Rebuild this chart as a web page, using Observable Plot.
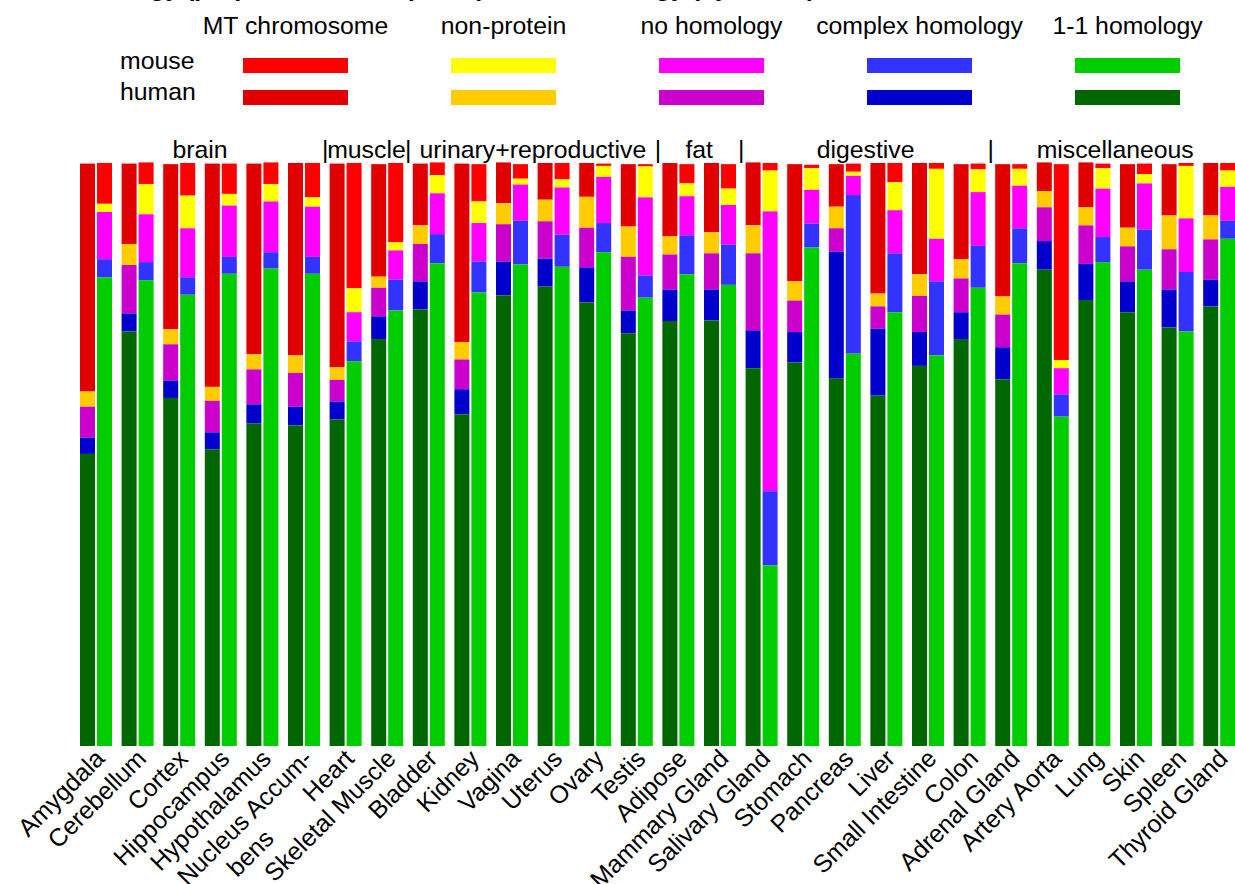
<!DOCTYPE html>
<html>
<head>
<meta charset="utf-8">
<script src="https://cdn.jsdelivr.net/npm/d3@7"></script>
<script src="https://cdn.jsdelivr.net/npm/@observablehq/plot@0.6"></script>
<style>
  body { margin: 0; background: #fff; font-family: "Liberation Sans", Arial, Helvetica, sans-serif; }
  #page { position: relative; width: 1235px; height: 884px; overflow: hidden; background: #fff; }
  .t { position: absolute; white-space: nowrap; font-size: 24.8px; line-height: 24.8px; color: #000; }
  .title { font-weight: bold; }
  .hdr { transform: translateX(-50%); }
  .sw { position: absolute; width: 105px; height: 14.5px; }
  #chart { position: absolute; left: 0; top: 120px; }
</style>
</head>
<body>
<div id="page">
  <div id="legend"></div>
  <div id="chart"></div>
</div>
<script>
// ---------------- data ----------------
const tissues = ["Amygdala","Cerebellum","Cortex","Hippocampus","Hypothalamus","Nucleus Accum-\nbens",
  "Heart","Skeletal Muscle",
  "Bladder","Kidney","Vagina","Uterus","Ovary","Testis",
  "Adipose","Mammary Gland",
  "Salivary Gland","Stomach","Pancreas","Liver","Small Intestine","Colon",
  "Adrenal Gland","Artery Aorta","Lung","Skin","Spleen","Thyroid Gland"];

const categories = ["MT chromosome","non-protein","no homology","complex homology","1-1 homology"];
const species = ["mouse","human"];

// human (left bar of each pair)
const human_oneToOne = [0.501,0.711,0.597,0.509,0.553,0.550,0.560,0.698,0.749,0.569,0.773,0.788,0.761,0.708,0.729,0.730,0.648,0.658,0.631,0.601,0.652,0.698,0.629,0.817,0.765,0.744,0.718,0.754];
const human_complex  = [0.028,0.031,0.030,0.029,0.033,0.032,0.031,0.039,0.048,0.043,0.058,0.048,0.060,0.039,0.054,0.053,0.065,0.052,0.217,0.115,0.058,0.046,0.055,0.049,0.062,0.053,0.065,0.046];
const human_noHom    = [0.053,0.083,0.062,0.054,0.060,0.058,0.037,0.049,0.064,0.051,0.064,0.064,0.068,0.092,0.060,0.062,0.132,0.054,0.040,0.038,0.062,0.058,0.056,0.058,0.066,0.060,0.069,0.069];
const human_nonProt  = [0.026,0.036,0.026,0.024,0.026,0.030,0.022,0.019,0.032,0.030,0.036,0.037,0.053,0.052,0.031,0.036,0.048,0.033,0.037,0.022,0.037,0.033,0.031,0.028,0.031,0.032,0.058,0.041];
const human_MT       = [0.391,0.138,0.283,0.383,0.327,0.330,0.349,0.193,0.106,0.306,0.070,0.063,0.058,0.107,0.126,0.119,0.108,0.201,0.073,0.224,0.191,0.163,0.227,0.049,0.077,0.109,0.088,0.090];

// mouse (right bar of each pair)
const mouse_oneToOne = [0.804,0.799,0.774,0.810,0.819,0.810,0.660,0.747,0.828,0.778,0.826,0.822,0.847,0.769,0.809,0.791,0.310,0.855,0.673,0.744,0.670,0.786,0.828,0.565,0.830,0.817,0.711,0.870];
const mouse_complex  = [0.031,0.031,0.030,0.029,0.028,0.029,0.034,0.053,0.050,0.053,0.075,0.055,0.050,0.038,0.067,0.069,0.127,0.041,0.272,0.101,0.127,0.072,0.060,0.038,0.043,0.069,0.102,0.031];
const mouse_noHom    = [0.081,0.082,0.084,0.088,0.087,0.086,0.050,0.050,0.070,0.066,0.062,0.081,0.079,0.134,0.067,0.068,0.480,0.058,0.033,0.074,0.073,0.092,0.073,0.045,0.083,0.079,0.092,0.058];
const mouse_nonProt  = [0.014,0.052,0.056,0.020,0.030,0.016,0.041,0.014,0.031,0.037,0.010,0.014,0.019,0.053,0.022,0.028,0.070,0.037,0.007,0.048,0.120,0.039,0.029,0.014,0.035,0.016,0.090,0.028];
const mouse_MT       = [0.070,0.037,0.056,0.052,0.037,0.059,0.215,0.136,0.022,0.064,0.025,0.028,0.004,0.004,0.033,0.042,0.013,0.006,0.014,0.033,0.010,0.010,0.008,0.336,0.008,0.018,0.005,0.013];

// tissue groups: label, the tissue left of the group's middle (label is centred from it), first tissue of each later group
const groupLabels  = ["brain","muscle","urinary+reproductive","fat","digestive","miscellaneous"];
const groupCenter  = ["Cortex","Heart","Vagina","Adipose","Pancreas","Lung"];
const groupStarts  = ["Heart","Bladder","Adipose","Salivary Gland","Adrenal Gland"];

const colors = {
  mouse: ["#ff0000","#ffff00","#ff00ff","#3333ff","#00cc00"],
  human: ["#e00000","#ffcc00","#cc00cc","#0000cc","#006600"]
};
const titleText = "Homology (proportion of TPM) and protein homology (by tissue)";

// ---------------- build table ----------------
const series = {
  human: [human_MT, human_nonProt, human_noHom, human_complex, human_oneToOne],
  mouse: [mouse_MT, mouse_nonProt, mouse_noHom, mouse_complex, mouse_oneToOne]
};
const rows = [];
for (const sp of species) {
  tissues.forEach((t, i) => {
    categories.forEach((c, j) => {
      rows.push({tissue: t, species: sp, category: c, key: sp + " " + c, value: series[sp][j][i]});
    });
  });
}
const colorDomain = [], colorRange = [];
for (const sp of species) categories.forEach((c, j) => { colorDomain.push(sp + " " + c); colorRange.push(colors[sp][j]); });
const stackOrder = ["1-1 homology","complex homology","no homology","non-protein","MT chromosome"];

// ---------------- legend (HTML) ----------------
const legend = document.getElementById("legend");
function addDiv(cls, text, style) {
  const d = document.createElement("div");
  d.className = cls; if (text != null) d.textContent = text;
  Object.assign(d.style, style); legend.appendChild(d); return d;
}
addDiv("t title", titleText, {left: "58px", top: "-24px"});
categories.forEach((c, j) => {
  const left = 243 + 208 * j;
  addDiv("t hdr", c, {left: (left + 52.5) + "px", top: "14px"});
  addDiv("sw", null, {left: left + "px", top: "58px", background: colors.mouse[j]});
  addDiv("sw", null, {left: left + "px", top: "90px", background: colors.human[j]});
});
addDiv("t", "mouse", {left: "120px", top: "49px"});
addDiv("t", "human", {left: "120px", top: "80px"});

// ---------------- chart ----------------
const step = 41.6;
const x0 = 80;
const barW = 15, gap = 2;
const fontPx = 24.8;
const fontSize = fontPx + "px";
const fontFamily = '"Liberation Sans", Arial, Helvetica, sans-serif';
const tickDx = -(step / 2 - barW - gap / 2) + 4;
const tickPad = 8;
const lineGap = fontPx * 1.17;

// wrapped tick labels: first line sits like any tick label; the continuation goes one line
// lower, ending under the start of the first line's last word
const wrapped = tissues.filter(t => t.includes("\n"));
const ctx = document.createElement("canvas").getContext("2d");
ctx.font = `${fontSize} ${fontFamily}`;
const contLines = wrapped.map(t => {
  const [first, second] = t.split("\n");
  const back = ctx.measureText(first.split(" ").pop()).width;
  const r = Math.SQRT1_2;
  return {tissue: t, text: second, dx: tickDx - back * r + lineGap * r, dy: tickPad + back * r + lineGap * r};
});

const chart = Plot.plot({
  width: 1235,
  height: 764,
  marginTop: 43,
  marginBottom: 138,
  marginLeft: 0,
  marginRight: 0,
  style: {fontFamily: fontFamily, fontSize: fontSize, background: "#fff", color: "#000"},
  x: {type: "band", domain: tissues, range: [x0, x0 + step * tissues.length], padding: 0, round: false},
  y: {domain: [0, 1], axis: null},
  color: {domain: colorDomain, range: colorRange},
  marks: [
    Plot.rectY(rows.filter(d => d.species === "human"), Plot.stackY({order: stackOrder}, {
      x: "tissue", y: "value", z: "category", fill: "key",
      insetLeft: 0, insetRight: step - barW
    })),
    Plot.rectY(rows.filter(d => d.species === "mouse"), Plot.stackY({order: stackOrder}, {
      x: "tissue", y: "value", z: "category", fill: "key",
      insetLeft: barW + gap, insetRight: step - 2 * barW - gap
    })),
    Plot.axisX({tickSize: 0, tickRotate: -45, label: null, fontSize: fontSize, dx: tickDx, tickPadding: tickPad,
      tickFormat: d => d.split("\n")[0]}),
    ...contLines.map(c => Plot.text([c], {x: "tissue", text: "text", frameAnchor: "bottom", rotate: -45,
      textAnchor: "end", lineAnchor: "middle", dx: c.dx, dy: c.dy, fontSize: fontSize, fill: "#000"})),
    Plot.text(groupLabels, {x: (d, i) => groupCenter[i], text: d => d, frameAnchor: "top", lineAnchor: "bottom",
      dy: -5.5, dx: barW + gap / 2 - 0.5, fontSize: fontSize, fill: "#000"}),
    Plot.text(groupStarts, {x: d => d, text: () => "|", frameAnchor: "top", lineAnchor: "bottom",
      dy: -5.5, dx: -step / 2 - 5, fontSize: fontSize, fill: "#000"})
  ]
});
document.getElementById("chart").appendChild(chart);
</script>
</body>
</html>
